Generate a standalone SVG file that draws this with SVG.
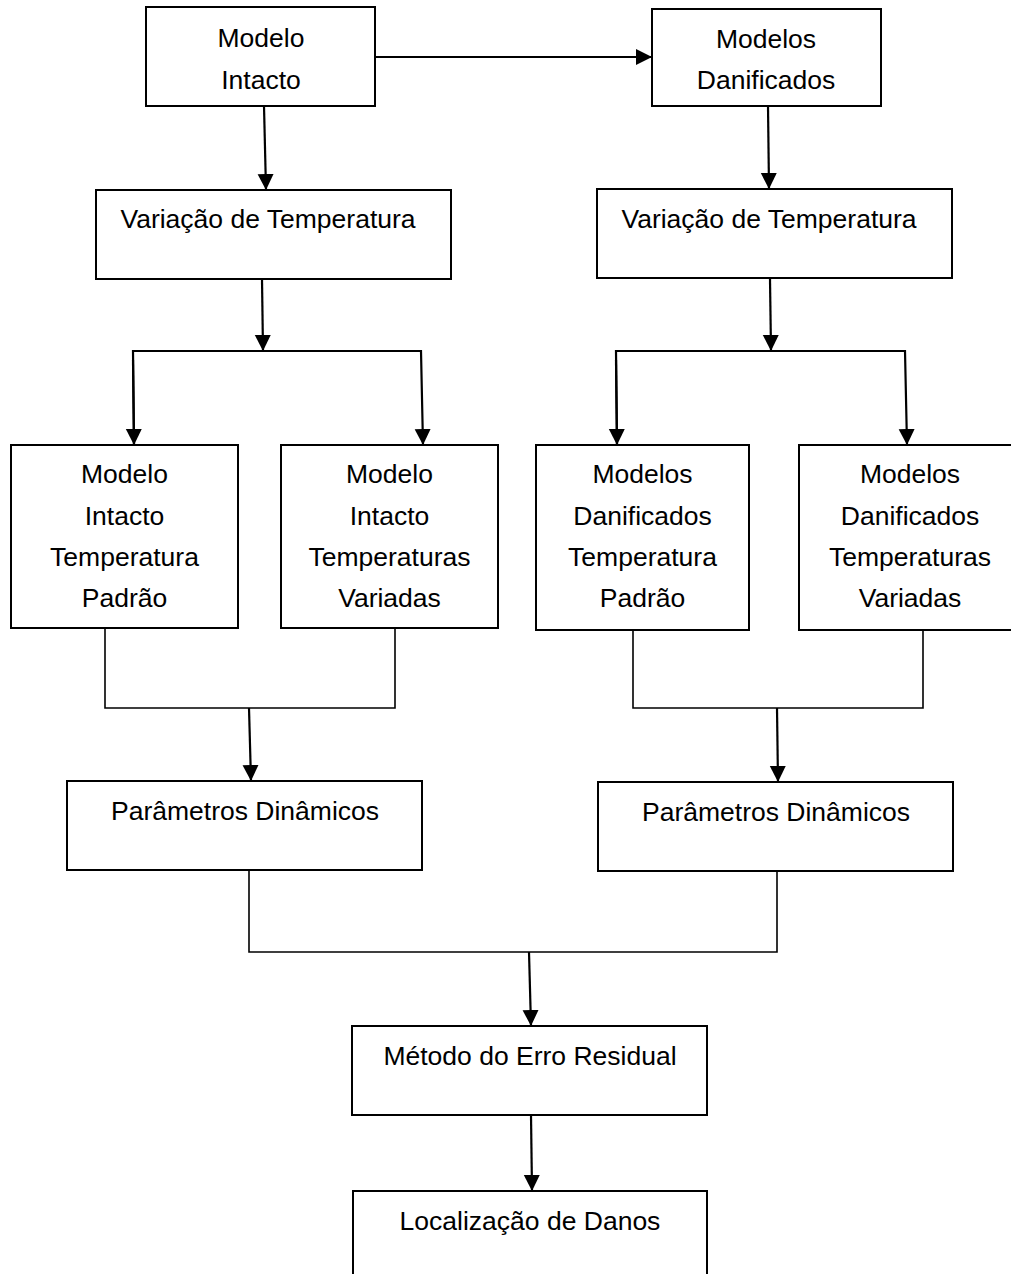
<svg xmlns="http://www.w3.org/2000/svg" width="1011" height="1274" viewBox="0 0 1011 1274">
<style>
.box{fill:#fff;stroke:#000;stroke-width:2}
.t{font-family:"Liberation Sans",Arial,sans-serif;font-size:26.5px;fill:#000;text-anchor:middle}
.c{fill:none;stroke:#000;stroke-width:2.2}
.m{fill:none;stroke:#000;stroke-width:1.6}
</style>
<defs>
<marker id="ah" markerUnits="userSpaceOnUse" markerWidth="18" markerHeight="18" refX="16" refY="8" orient="auto">
<path d="M0,0 L16,8 L0,16 Z" fill="#000"/>
</marker>
</defs>
<rect width="1011" height="1274" fill="#fff"/>
<g id="connectors">
<line class="c" x1="375" y1="57" x2="652" y2="57" marker-end="url(#ah)"/>
<line class="c" x1="264" y1="106" x2="266" y2="190" marker-end="url(#ah)"/>
<line class="c" x1="768" y1="106" x2="769" y2="189" marker-end="url(#ah)"/>
<line class="c" x1="262" y1="279" x2="263" y2="351" marker-end="url(#ah)"/>
<polyline class="c" points="134,445 133,351 421,351 423,445" marker-end="url(#ah)"/>
<line class="c" x1="133" y1="360" x2="134" y2="445" marker-end="url(#ah)"/>
<line class="c" x1="770" y1="279" x2="771" y2="351" marker-end="url(#ah)"/>
<polyline class="c" points="617,445 616,351 905,351 907,445" marker-end="url(#ah)"/>
<line class="c" x1="616" y1="360" x2="617" y2="445" marker-end="url(#ah)"/>
<polyline class="m" points="105,628 105,708 395,708 395,628"/>
<line class="c" x1="249" y1="708" x2="251" y2="781" marker-end="url(#ah)"/>
<polyline class="m" points="633,626 633,708 923,708 923,626"/>
<line class="c" x1="777" y1="708" x2="778" y2="782" marker-end="url(#ah)"/>
<polyline class="m" points="249,870 249,952 777,952 777,871"/>
<line class="c" x1="529" y1="952" x2="531" y2="1026" marker-end="url(#ah)"/>
<line class="c" x1="531" y1="1115" x2="532" y2="1191" marker-end="url(#ah)"/>
</g>
<g id="modelo-intacto">
<rect class="box" x="146" y="7" width="229" height="99"/>
<text class="t" x="261" y="47">Modelo</text>
<text class="t" x="261" y="89">Intacto</text>
</g>
<g id="modelos-danificados">
<rect class="box" x="652" y="9" width="229" height="97"/>
<text class="t" x="766" y="48">Modelos</text>
<text class="t" x="766" y="89">Danificados</text>
</g>
<g id="variacao-temperatura-1">
<rect class="box" x="96" y="190" width="355" height="89"/>
<text class="t" x="268" y="228">Variação de Temperatura</text>
</g>
<g id="variacao-temperatura-2">
<rect class="box" x="597" y="189" width="355" height="89"/>
<text class="t" x="769" y="228">Variação de Temperatura</text>
</g>
<g id="intacto-padrao">
<rect class="box" x="11" y="445" width="227" height="183"/>
<text class="t" x="124.5" y="483">Modelo</text>
<text class="t" x="124.5" y="525">Intacto</text>
<text class="t" x="124.5" y="566">Temperatura</text>
<text class="t" x="124.5" y="607">Padrão</text>
</g>
<g id="intacto-variadas">
<rect class="box" x="281" y="445" width="217" height="183"/>
<text class="t" x="389.5" y="483">Modelo</text>
<text class="t" x="389.5" y="525">Intacto</text>
<text class="t" x="389.5" y="566">Temperaturas</text>
<text class="t" x="389.5" y="607">Variadas</text>
</g>
<g id="danificados-padrao">
<rect class="box" x="536" y="445" width="213" height="185"/>
<text class="t" x="642.5" y="483">Modelos</text>
<text class="t" x="642.5" y="525">Danificados</text>
<text class="t" x="642.5" y="566">Temperatura</text>
<text class="t" x="642.5" y="607">Padrão</text>
</g>
<g id="danificados-variadas">
<rect class="box" x="799" y="445" width="222" height="185"/>
<text class="t" x="910" y="483">Modelos</text>
<text class="t" x="910" y="525">Danificados</text>
<text class="t" x="910" y="566">Temperaturas</text>
<text class="t" x="910" y="607">Variadas</text>
</g>
<g id="parametros-1">
<rect class="box" x="67" y="781" width="355" height="89"/>
<text class="t" x="245" y="820">Parâmetros Dinâmicos</text>
</g>
<g id="parametros-2">
<rect class="box" x="598" y="782" width="355" height="89"/>
<text class="t" x="776" y="821">Parâmetros Dinâmicos</text>
</g>
<g id="metodo-erro-residual">
<rect class="box" x="352" y="1026" width="355" height="89"/>
<text class="t" x="530" y="1065">Método do Erro Residual</text>
</g>
<g id="localizacao-danos">
<rect class="box" x="353" y="1191" width="354" height="100"/>
<text class="t" x="530" y="1230">Localização de Danos</text>
</g>
</svg>
